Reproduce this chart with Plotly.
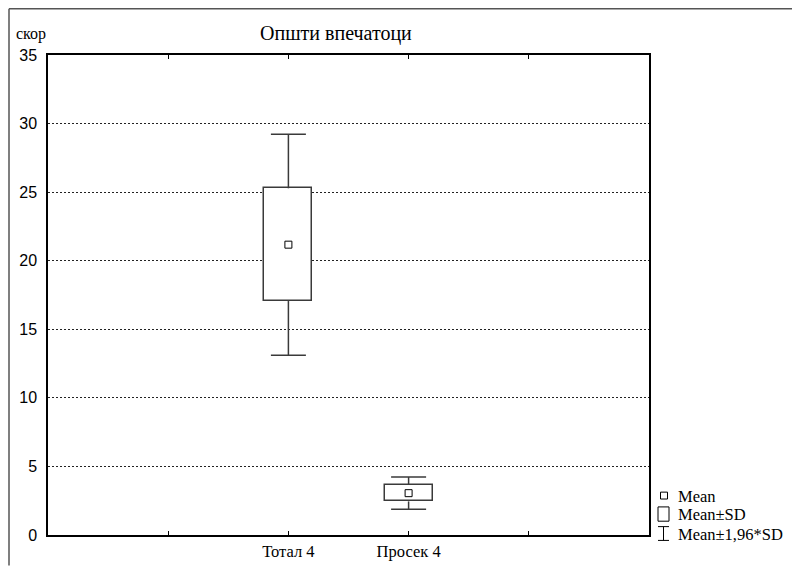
import plotly.graph_objects as go

# ---- data ----
categories = ["Тотал 4", "Просек 4"]
means = [21.17, 3.05]
sds = [4.11, 0.60]
k_factor = 1.96

title_text = "Општи впечатоци"
y_label = "скор"
legend_labels = ["Mean", "Mean±SD", "Mean±1,96*SD"]
y_ticks = [0, 5, 10, 15, 20, 25, 30, 35]

# ---- layout helpers ----
W, H = 792, 573
L, R, T, B = 48, 649, 55, 542
cat_pos = [2, 3]
x_range = [0, 5]


def px(p):
    return (p - L) / (R - L)


def py(r):
    return (B - r) / (B - T)


serif = "Liberation Serif, Times New Roman, serif"
sans = "Liberation Sans, Arial, sans-serif"
lc = "#3a3a3a"

upper_sd = [m + s for m, s in zip(means, sds)]
lower_sd = [m - s for m, s in zip(means, sds)]
upper_k = [m + k_factor * s for m, s in zip(means, sds)]
lower_k = [m - k_factor * s for m, s in zip(means, sds)]

fig = go.Figure()

# Mean±SD boxes
fig.add_trace(go.Bar(
    x=cat_pos, y=[2 * s for s in sds], base=lower_sd, width=0.4,
    marker=dict(color="white", line=dict(color=lc, width=1.5)),
    showlegend=False, hoverinfo="skip",
))

# whisker stems (Mean±SD -> Mean±1.96*SD)
wx, wy = [], []
for xp, a, b, c, d in zip(cat_pos, upper_sd, upper_k, lower_sd, lower_k):
    wx += [xp, xp, None, xp, xp, None]
    wy += [a, b, None, c, d, None]
fig.add_trace(go.Scatter(
    x=wx, y=wy, mode="lines", line=dict(color=lc, width=1.5),
    showlegend=False, hoverinfo="skip",
))
# whisker caps
fig.add_trace(go.Scatter(
    x=cat_pos + cat_pos, y=upper_k + lower_k, mode="markers",
    marker=dict(symbol="line-ew", size=25, line=dict(color=lc, width=1.5)),
    showlegend=False, hoverinfo="skip",
))

# Means
fig.add_trace(go.Scatter(
    x=cat_pos, y=means, mode="markers",
    marker=dict(symbol="square", size=7, color="white",
                line=dict(color="black", width=1)),
    showlegend=False, hoverinfo="skip",
))

shapes = []
# outer frame (top and left)
shapes.append(dict(type="line", xref="paper", yref="paper",
                   x0=px(9), x1=px(792), y0=py(8), y1=py(8),
                   line=dict(color="#555", width=1.5)))
shapes.append(dict(type="line", xref="paper", yref="paper",
                   x0=px(9), x1=px(9), y0=py(8), y1=py(573),
                   line=dict(color="#555", width=1.5)))

# legend icons
shapes.append(dict(type="rect", xref="paper", yref="paper",
                   x0=px(660.5), x1=px(667.5), y0=py(498.5), y1=py(505.5),
                   line=dict(color="black", width=1), fillcolor="white"))
shapes.append(dict(type="rect", xref="paper", yref="paper",
                   x0=px(658), x1=px(669), y0=py(513.5), y1=py(528),
                   line=dict(color="black", width=1), fillcolor="white"))
shapes.append(dict(type="line", xref="paper", yref="paper",
                   x0=px(658), x1=px(669), y0=py(533.5), y1=py(533.5),
                   line=dict(color="black", width=1)))
shapes.append(dict(type="line", xref="paper", yref="paper",
                   x0=px(663.5), x1=px(663.5), y0=py(533.5), y1=py(547.5),
                   line=dict(color="black", width=1)))
shapes.append(dict(type="line", xref="paper", yref="paper",
                   x0=px(658), x1=px(669), y0=py(547.5), y1=py(547.5),
                   line=dict(color="black", width=1)))

annotations = [
    dict(text=title_text, xref="paper", yref="paper", x=px(336), y=py(33),
         xanchor="center", yanchor="middle", showarrow=False,
         font=dict(family=serif, size=20, color="black")),
    dict(text=y_label, xref="paper", yref="paper", x=px(14), y=py(34),
         xanchor="left", yanchor="middle", showarrow=False,
         font=dict(family=serif, size=16, color="black")),
]
for lab, yc in zip(legend_labels, [502.5, 521.5, 541.5]):
    annotations.append(dict(text=lab, xref="paper", yref="paper",
                            x=px(676), y=py(yc), xanchor="left", yanchor="middle",
                            showarrow=False,
                            font=dict(family=serif, size=16.5, color="black")))

fig.update_layout(
    width=W, height=H,
    margin=dict(l=L, r=W - R, t=T, b=H - B),
    paper_bgcolor="white", plot_bgcolor="white",
    shapes=shapes, annotations=annotations,
    showlegend=False, bargap=0,
    xaxis=dict(
        range=x_range, tickmode="array", tickvals=[1, 2, 3, 4],
        ticktext=["", categories[0], categories[1], ""],
        ticks="inside", ticklen=4, tickcolor="black",
        showline=True, linecolor="black", linewidth=1.5, mirror="ticks",
        showgrid=False, zeroline=False,
        tickfont=dict(family=serif, size=16.5, color="black"),
    ),
    yaxis=dict(
        range=[0, 35], tickmode="array", tickvals=y_ticks,
        ticks="", showline=True, linecolor="black", linewidth=1.5, mirror=True,
        showgrid=True, gridcolor="#222", gridwidth=1, griddash="2px,2px",
        zeroline=False, ticklabelstandoff=6,
        tickfont=dict(family=sans, size=16, color="black"),
    ),
)

fig.write_html("out.html")
